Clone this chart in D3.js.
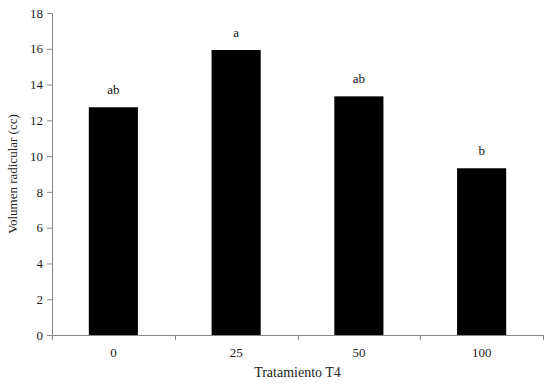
<!DOCTYPE html>
<html>
<head>
<meta charset="utf-8">
<script src="https://cdn.jsdelivr.net/npm/d3@7"></script>
<style>
  body { margin: 0; background: #fff; }
  svg text { font-family: "Liberation Serif", "DejaVu Serif", serif; fill: #222; }
</style>
</head>
<body>
<div id="chart"></div>
<script>
// data
const categories = ["0", "25", "50", "100"];
const values = [12.73, 15.93, 13.34, 9.32];
const letters = ["ab", "a", "ab", "b"];
const yTicks = [0, 2, 4, 6, 8, 10, 12, 14, 16, 18];

const width = 555;
const height = 385;
const margin = { top: 13, right: 12, bottom: 50, left: 52 };

const svg = d3.select("#chart").append("svg")
    .attr("width", width)
    .attr("height", height);

// scales
const xscale = d3.scaleBand()
    .domain(categories)
    .range([margin.left, width - margin.right])
    .paddingInner(0.6)
    .paddingOuter(0.3);
const yscale = d3.scaleLinear()
    .domain([0, 18])
    .range([height - margin.bottom, margin.top]);

// bars
svg.selectAll("rect.bar")
    .data(values)
    .join("rect")
    .attr("class", "bar")
    .attr("x", (d, i) => xscale(categories[i]))
    .attr("y", d => yscale(d))
    .attr("width", xscale.bandwidth())
    .attr("height", d => yscale(0) - yscale(d))
    .attr("fill", "#000");

// significance letters
svg.selectAll("text.letter")
    .data(values)
    .join("text")
    .attr("class", "letter")
    .attr("x", (d, i) => xscale(categories[i]) + xscale.bandwidth() / 2)
    .attr("y", d => yscale(d) - 13)
    .attr("text-anchor", "middle")
    .style("font-size", "13px")
    .style("fill", "#111")
    .text((d, i) => letters[i]);

// y axis
const yaxis = d3.axisLeft(yscale).tickValues(yTicks).tickSize(5).tickPadding(4);
const g_yaxis = svg.append("g")
    .attr("transform", `translate(${margin.left},0)`)
    .call(yaxis);
g_yaxis.select(".domain").attr("stroke", "#888").attr("d", `M0.5,${yscale(18)}V${yscale(0)}`);
g_yaxis.selectAll(".tick line").attr("stroke", "#888");
g_yaxis.selectAll(".tick text").style("font-size", "13px").attr("fill", "#222");

// x axis: ticks at band boundaries
const x0 = margin.left, x1 = width - margin.right;
const step = xscale.step();
const boundaries = d3.range(categories.length + 1).map(i => x0 + i * step);
const g_xaxis = svg.append("g").attr("transform", `translate(0,${yscale(0)})`);
g_xaxis.append("line")
    .attr("x1", x0).attr("x2", x1)
    .attr("y1", 0.5).attr("y2", 0.5)
    .attr("stroke", "#888");
g_xaxis.selectAll("line.tick")
    .data(boundaries)
    .join("line")
    .attr("class", "tick")
    .attr("x1", d => Math.round(d) + 0.5).attr("x2", d => Math.round(d) + 0.5)
    .attr("y1", 0).attr("y2", 5)
    .attr("stroke", "#888");
g_xaxis.selectAll("text.cat")
    .data(categories)
    .join("text")
    .attr("class", "cat")
    .attr("x", d => xscale(d) + xscale.bandwidth() / 2)
    .attr("y", 22)
    .attr("text-anchor", "middle")
    .style("font-size", "13px")
    .text(d => d);

// axis titles
svg.append("text")
    .attr("x", (x0 + x1) / 2)
    .attr("y", 377)
    .attr("text-anchor", "middle")
    .style("font-size", "14px")
    .text("Tratamiento T4");

svg.append("text")
    .attr("transform", `translate(17,${(yscale(0) + yscale(18)) / 2}) rotate(-90)`)
    .attr("text-anchor", "middle")
    .style("font-size", "13px")
    .text("Volumen radicular (cc)");
</script>
</body>
</html>
